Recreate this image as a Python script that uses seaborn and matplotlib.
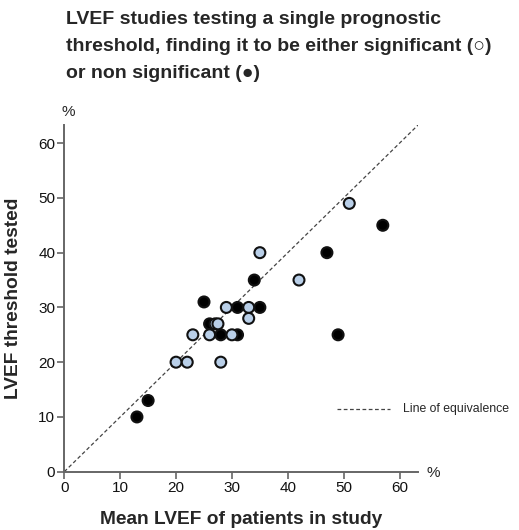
import matplotlib
matplotlib.use("Agg")
import matplotlib.pyplot as plt
import seaborn as sns
import pandas as pd
import numpy as np

# Significant thresholds (light blue markers)
sig_mean_lvef = [20, 22, 23, 26, 27, 27.5, 28, 29, 30, 33, 33, 35, 42, 51]
sig_threshold = [20, 20, 25, 25, 27, 27, 20, 30, 25, 30, 28, 40, 35, 49]
# Non-significant thresholds (black markers)
nonsig_mean_lvef = [13, 15, 25, 26, 28, 31, 31, 34, 35, 47, 49, 57]
nonsig_threshold = [10, 13, 31, 27, 25, 25, 30, 35, 30, 40, 25, 45]

x_ticks = [0, 10, 20, 30, 40, 50, 60]
y_ticks = [0, 10, 20, 30, 40, 50, 60]

df = pd.DataFrame({
    "mean": nonsig_mean_lvef + sig_mean_lvef,
    "thr": nonsig_threshold + sig_threshold,
    "group": ["non significant"] * len(nonsig_mean_lvef) + ["significant"] * len(sig_mean_lvef),
})

sns.set_style("white")
plt.rcParams["font.family"] = ["Liberation Sans", "DejaVu Sans"]

fig = plt.figure(figsize=(5.19, 5.30), dpi=100)
ax = fig.add_axes([0.1239, 0.110, 0.6815, 0.654])

# line of equivalence
lim = 63.3
ax.plot([0, lim], [0, lim], ls=(0, (3, 2)), color="#444444", lw=0.9, zorder=1)

sns.scatterplot(data=df, x="mean", y="thr", hue="group",
                palette={"non significant": "#000000", "significant": "#b9cfe8"},
                edgecolor="#111111", linewidth=1.5, s=62, ax=ax, legend=False, zorder=3)

ax.set_xlim(0, lim)
ax.set_ylim(0, lim)
ax.set_xticks(x_ticks)
ax.set_yticks(y_ticks)
for sp in ["top", "right"]:
    ax.spines[sp].set_visible(False)
for sp in ["left", "bottom"]:
    ax.spines[sp].set_color("#666666")
    ax.spines[sp].set_linewidth(1.4)
ax.tick_params(axis="both", direction="out", length=5, width=1.2, color="#666666",
               labelsize=11, labelcolor="#111111", pad=1.5, left=True, bottom=True)
ax.set_xlabel("Mean LVEF of patients in study", fontsize=13.8, fontweight="bold", labelpad=12)
ax.set_ylabel("LVEF threshold tested", fontsize=13.8, fontweight="bold", labelpad=12)

# percent unit labels
fig.text(68 / 519, 1 - 112 / 530, "%", fontsize=11, ha="center", va="center")
fig.text(433 / 519, 1 - 473 / 530, "%", fontsize=11, ha="center", va="center")

# legend for the line
fig.add_artist(plt.Line2D([337 / 519, 390 / 519], [1 - 409 / 530, 1 - 409 / 530],
                          ls=(0, (3, 2)), color="#444444", lw=0.9))
fig.text(403 / 519, 1 - 409 / 530, "Line of equivalence", fontsize=8.8, ha="left", va="center")

# title
title_lines = [
    "LVEF studies testing a single prognostic",
    "threshold, finding it to be either significant (\u25CB)",
    "or non significant (\u25CF)",
]
for i, t in enumerate(title_lines):
    fig.text(66 / 519, 1 - (20 + 26.5 * i) / 530, t, fontsize=14, fontweight="bold",
             ha="left", va="center")

fig.savefig("out.png", dpi=100)
